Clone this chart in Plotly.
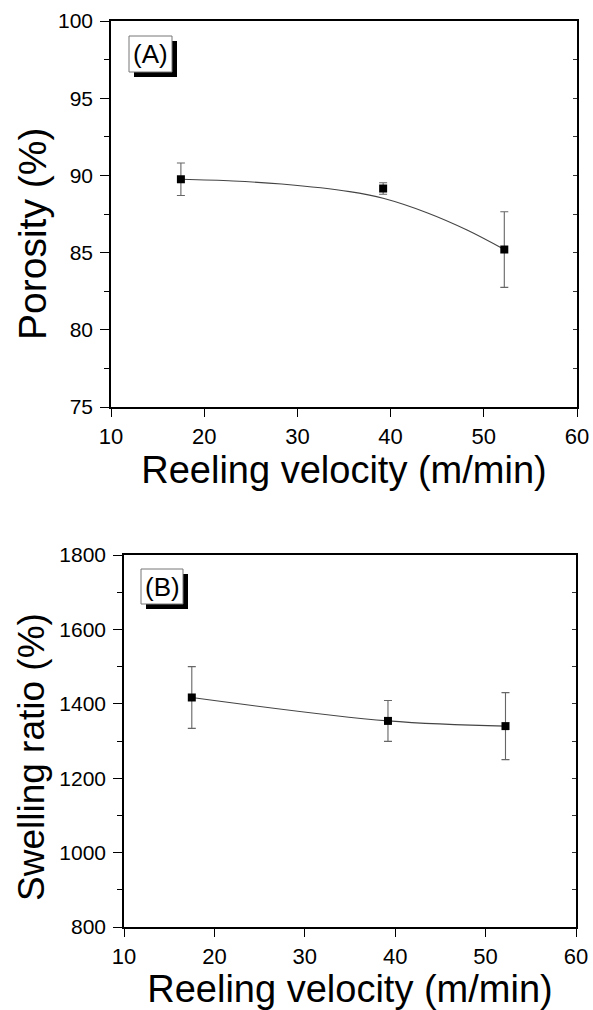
import plotly.graph_objects as go

W, H = 593, 1010

# ---------- data ----------
velocity = [17.5, 39.2, 52.2]

porosity = [89.75, 89.15, 85.2]
porosity_err = [1.05, 0.37, 2.45]
# fitted curve drawn in panel A
fit_x = [17.5, 23.1, 28.3, 35.6, 39.3, 43.9, 48.2, 52.2]
fit_y = [89.75, 89.64, 89.44, 88.95, 88.5, 87.58, 86.46, 85.2]

swelling = [1417, 1354, 1340]
swelling_err = [83, 55, 90]

x_ticks = [10, 20, 30, 40, 50, 60]
a_ticks = [75, 80, 85, 90, 95, 100]
b_ticks = [800, 1000, 1200, 1400, 1600, 1800]

# ---------- layout geometry (pixels) ----------
A = dict(l=111, r=577, t=21, b=407)
B = dict(l=124, r=576, t=555, b=927)


def px(x):
    return x / W


def py(y):
    return 1 - y / H


FONT = "Liberation Sans, Arial, sans-serif"

fig = go.Figure()

fig.add_trace(go.Scatter(
    x=fit_x, y=fit_y, mode="lines", line=dict(color="#444", width=1.1, shape="spline"),
    xaxis="x", yaxis="y", showlegend=False, hoverinfo="skip"))
fig.add_trace(go.Scatter(
    x=velocity, y=porosity, mode="markers",
    marker=dict(symbol="square", size=8, color="black"),
    error_y=dict(type="data", array=porosity_err, color="#666", thickness=1.1, width=4),
    xaxis="x", yaxis="y", showlegend=False))
fig.add_trace(go.Scatter(
    x=velocity, y=porosity, mode="markers", marker=dict(opacity=0),
    xaxis="x", yaxis="y3", showlegend=False, hoverinfo="skip"))

fig.add_trace(go.Scatter(
    x=velocity, y=swelling, mode="lines+markers",
    line=dict(color="#444", width=1.1, shape="spline"),
    marker=dict(symbol="square", size=8, color="black"),
    error_y=dict(type="data", array=swelling_err, color="#666", thickness=1.1, width=4),
    xaxis="x2", yaxis="y2", showlegend=False))
fig.add_trace(go.Scatter(
    x=velocity, y=swelling, mode="markers", marker=dict(opacity=0),
    xaxis="x2", yaxis="y4", showlegend=False, hoverinfo="skip"))

tickfont = dict(family=FONT, size=21, color="black")
titlefont = dict(family=FONT, size=38, color="black")

xcommon = dict(range=[10, 60], tickvals=x_ticks, ticks="outside", ticklen=8, tickwidth=1.3,
               tickcolor="black", showline=True, linecolor="black", linewidth=1.6,
               mirror=True, showgrid=False, zeroline=False, tickfont=dict(tickfont, size=22),
               ticklabelstandoff=1, automargin=False)

ycommon = dict(ticks="outside", ticklen=9, tickwidth=1.3, tickcolor="black",
               showline=True, linecolor="black", linewidth=1.6, mirror=True,
               showgrid=False, zeroline=False, tickfont=tickfont, automargin=False,
               ticklabelstandoff=3)

rcommon = dict(side="right", ticks="inside", ticklen=4, tickcolor="#333", tickwidth=1,
               showticklabels=False, showline=False, showgrid=False, zeroline=False,
               automargin=False)

fig.update_layout(
    width=W, height=H, margin=dict(l=0, r=0, t=0, b=0),
    paper_bgcolor="white", plot_bgcolor="white",
    xaxis=dict(xcommon, domain=[px(A["l"]), px(A["r"])], anchor="y",
               title=dict(text="Reeling velocity (m/min)", font=titlefont, standoff=6)),
    yaxis=dict(ycommon, domain=[py(A["b"]), py(A["t"])], anchor="x", range=[75, 100],
               tickvals=a_ticks,
               minor=dict(dtick=2.5, ticks="outside", ticklen=5, tickcolor="black", tickwidth=1.2)),
    yaxis3=dict(rcommon, overlaying="y", anchor="x", range=[75, 100], tickvals=a_ticks,
                minor=dict(dtick=2.5, ticks="inside", ticklen=4, tickcolor="#333", tickwidth=1)),
    xaxis2=dict(xcommon, domain=[px(B["l"]), px(B["r"])], anchor="y2",
                title=dict(text="Reeling velocity (m/min)", font=titlefont, standoff=6)),
    yaxis2=dict(ycommon, domain=[py(B["b"]), py(B["t"])], anchor="x2", range=[800, 1800],
                tickvals=b_ticks,
                minor=dict(dtick=100, ticks="outside", ticklen=5, tickcolor="black", tickwidth=1.2)),
    yaxis4=dict(rcommon, overlaying="y2", anchor="x2", range=[800, 1800], tickvals=b_ticks,
                minor=dict(dtick=100, ticks="inside", ticklen=4, tickcolor="#333", tickwidth=1)),
)

# y-axis titles
for text, cx, cy, size in [("Porosity (%)", 33, 234, 39), ("Swelling ratio (%)", 31, 757, 37)]:
    fig.add_annotation(text=text, xref="paper", yref="paper", x=px(cx), y=py(cy),
                       xanchor="center", yanchor="middle", textangle=-90, showarrow=False,
                       font=dict(titlefont, size=size))

# panel labels with drop shadow
labels = [("(A)", 129, 36, 172, 72), ("(B)", 141, 569, 183, 604)]
for text, x0, y0, x1, y1 in labels:
    off = 5
    fig.add_shape(type="rect", xref="paper", yref="paper",
                  x0=px(x0 + off), x1=px(x1 + off), y0=py(y1 + off), y1=py(y0 + off),
                  fillcolor="black", line=dict(width=0), layer="above")
    fig.add_shape(type="rect", xref="paper", yref="paper",
                  x0=px(x0), x1=px(x1), y0=py(y1), y1=py(y0),
                  fillcolor="white", line=dict(color="#777", width=1), layer="above")
    fig.add_annotation(text=text, xref="paper", yref="paper",
                       x=px((x0 + x1) / 2), y=py((y0 + y1) / 2),
                       xanchor="center", yanchor="middle", showarrow=False,
                       font=dict(family=FONT, size=26, color="black"))

fig.write_html("out.html")
